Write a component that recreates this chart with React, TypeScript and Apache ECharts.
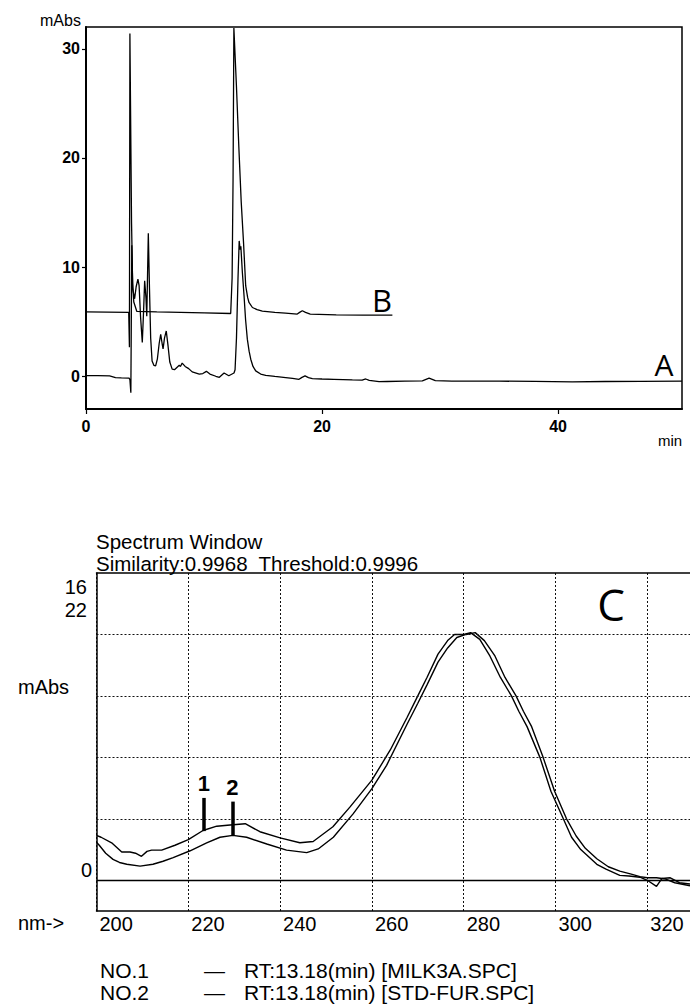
import React, { useEffect, useRef } from "react";
import * as echarts from "echarts";

// ---------- Chromatogram (top) ----------
const timeA = [0, 1.0, 2.0, 2.5, 3.0, 3.65, 3.72, 3.8, 3.88, 3.96, 4.12, 4.25, 4.4, 4.5, 4.62, 4.77, 4.88, 4.97, 5.08, 5.15, 5.28, 5.38, 5.48, 5.6, 5.75, 5.9, 6.05, 6.2, 6.33, 6.45, 6.53, 6.65, 6.8, 6.95, 7.1, 7.3, 7.5, 7.7, 7.9, 8.0, 8.15, 8.4, 8.7, 9.0, 9.6, 9.9, 10.2, 10.5, 11.0, 11.3, 11.7, 12.1, 12.54, 12.63, 12.75, 12.88, 12.98, 13.06, 13.12, 13.25, 13.39, 13.52, 13.67, 13.82, 13.96, 14.15, 14.38, 14.8, 15.23, 16.0, 16.92, 17.5, 18.05, 18.3, 18.56, 18.85, 19.18, 20.0, 21.0, 22.57, 23.4, 23.7, 24.0, 24.83, 25.5, 27.0, 28.5, 29.07, 29.6, 31, 35, 38, 41.2, 44, 47, 50.5];
const absA = [0.05, 0.05, 0.03, -0.12, -0.15, -0.18, -0.3, -1.5, 12, 8.0, 7.1, 8.2, 8.9, 8.3, 5.5, 3.1, 6.0, 8.75, 7.2, 5.5, 13.1, 8.0, 3.5, 1.4, 1.0, 0.95, 1.6, 3.0, 3.85, 3.0, 2.5, 3.5, 4.15, 2.8, 1.3, 0.65, 0.6, 0.8, 1.0, 0.9, 1.2, 0.9, 0.7, 0.4, 0.2, 0.25, 0.45, 0.2, 0.0, -0.1, 0.3, 0.05, 0.3, 0.6, 3.5, 9.0, 12.4, 11.6, 11.9, 9.5, 7.4, 5.2, 3.4, 2.3, 1.56, 0.9, 0.49, 0.2, 0.09, -0.02, -0.12, -0.2, -0.28, -0.1, 0.03, -0.12, -0.21, -0.25, -0.28, -0.34, -0.35, -0.25, -0.38, -0.5, -0.48, -0.45, -0.42, -0.18, -0.4, -0.45, -0.45, -0.47, -0.52, -0.48, -0.47, -0.45];

const timeB = [0, 3.62, 3.68, 3.72, 3.86, 3.95, 4.05, 4.3, 6, 8, 10, 12.26, 12.38, 12.46, 12.53, 12.75, 12.95, 13.15, 13.35, 13.53, 13.7, 13.81, 14.1, 14.5, 14.94, 16, 16.9, 17.9, 18.1, 18.33, 18.6, 19.0, 21.2, 23.5, 25.96];
const absB = [5.9, 5.85, 2.65, 31.4, 14, 8.5, 6.8, 5.95, 5.9, 5.85, 5.8, 5.75, 9, 18, 31.9, 26.5, 21.0, 16.0, 12.2, 8.3, 7.2, 6.76, 6.3, 6.1, 5.96, 5.85, 5.78, 5.7, 5.85, 6.0, 5.85, 5.7, 5.62, 5.6, 5.6];

const timeTicks = [0, 20, 40];
const absTicks = [0, 10, 20, 30];

// ---------- Spectrum (bottom) ----------
const nm1 = [200, 201, 203.3, 205.5, 207.3, 208.5, 209.8, 211, 212, 214.2, 217.1, 220, 223.2, 226.2, 229.1, 232.4, 235.6, 240, 244.3, 247.2, 251.5, 255.2, 260, 264, 267.6, 270, 272, 274.4, 276.5, 278, 280, 281.5, 283.5, 285.7, 288, 290.4, 292, 293.8, 296.6, 299, 301.7, 303.5, 305.5, 309, 311, 314, 316, 318.4, 320, 322, 323.2, 325, 327, 329.3];
const abs1 = [0.73, 0.7, 0.61, 0.46, 0.46, 0.44, 0.39, 0.47, 0.49, 0.49, 0.57, 0.66, 0.81, 0.88, 0.9, 0.92, 0.79, 0.69, 0.61, 0.63, 0.87, 1.19, 1.63, 2.12, 2.64, 3.0, 3.3, 3.68, 3.9, 4.0, 4.0, 4.03, 3.92, 3.65, 3.3, 3.0, 2.75, 2.5, 2.0, 1.45, 1.0, 0.7, 0.5, 0.26, 0.18, 0.08, 0.07, 0.05, 0.0, -0.1, 0.03, 0.04, -0.04, -0.06];

const nm2 = [200, 200.6, 202, 203.6, 205, 206.6, 209.5, 212.3, 214.5, 216.7, 220.4, 224, 226.9, 229.7, 232.7, 237.1, 241.4, 245.8, 248.3, 251.6, 255.9, 260, 263.2, 267.6, 270, 272, 274.4, 276.5, 278.5, 280.5, 282.5, 284.5, 286.8, 289, 291.4, 293, 294.8, 297.3, 299.8, 302.4, 304.5, 306.5, 309, 311.5, 314, 316.5, 318.4, 320, 322, 324, 326, 329.3];
const abs2 = [0.62, 0.57, 0.44, 0.34, 0.29, 0.26, 0.23, 0.26, 0.31, 0.37, 0.48, 0.61, 0.7, 0.73, 0.7, 0.59, 0.49, 0.45, 0.51, 0.7, 1.08, 1.49, 1.87, 2.53, 2.88, 3.18, 3.55, 3.78, 3.95, 4.0, 4.03, 3.9, 3.65, 3.3, 3.0, 2.75, 2.5, 2.0, 1.45, 1.0, 0.72, 0.52, 0.35, 0.22, 0.15, 0.1, 0.06, 0.04, 0.04, 0.02, -0.04, -0.09];

const specGridLevels = [1, 2, 3, 4];
const markerLabels = ["1", "2"];
const markerNm = [223.4, 229.6];
const markerLow = [0.8, 0.73];
const markerHigh = [1.34, 1.28];

const legendIds = ["NO.1", "NO.2"];
const legendRT = ["RT:13.18(min) [MILK3A.SPC]", "RT:13.18(min) [STD-FUR.SPC]"];

const zip = (xs: number[], ys: number[]) => xs.map((x, i) => [x, ys[i]]);

const SANS = "'Liberation Sans', Arial, sans-serif";

export default function App() {
  const ref = useRef<HTMLDivElement>(null);

  useEffect(() => {
    if (!ref.current) return;
    const chart = echarts.init(ref.current, null, { renderer: "svg" });

    const gridLineData: any[] = specGridLevels.map((v) => ({
      yAxis: v,
      lineStyle: { color: "#111", type: [2, 2], width: 1 },
      label: { show: false },
    }));
    gridLineData.push({ yAxis: 0, lineStyle: { color: "#000", type: "solid", width: 1.3 }, label: { show: false } });

    const markerData = markerLabels.map((lab, i) => {
      const common = {
        lineStyle: { color: "#000", width: 3.5, type: "solid" },
        label: { show: true, position: "end", formatter: lab, fontSize: 22, fontWeight: "bold", color: "#000", fontFamily: SANS, distance: 3 },
      };
      return [
        { coord: [markerNm[i], markerLow[i]], ...common },
        { coord: [markerNm[i], markerHigh[i]], ...common },
      ];
    });

    const texts: any[] = [
      { type: "text", left: 40, top: 12, style: { text: "mAbs", fontSize: 16, fontFamily: SANS, fill: "#000" } },
      { type: "text", left: 658, top: 433, style: { text: "min", fontSize: 15, fontFamily: SANS, fill: "#000" } },
      { type: "text", x: 382, y: 300, style: { text: "B", fontSize: 31, fontFamily: "'Open Sans', sans-serif", fill: "#000", align: "center", verticalAlign: "middle" } },
      { type: "text", x: 664, y: 364, style: { text: "A", fontSize: 30, fontFamily: "'Open Sans', sans-serif", fill: "#000", align: "center", verticalAlign: "middle" } },
      { type: "text", x: 611, y: 604, style: { text: "C", fontSize: 44, fontFamily: "'Open Sans', sans-serif", fill: "#000", align: "center", verticalAlign: "middle" } },
      { type: "text", x: 96, y: 541, style: { text: "Spectrum Window", fontSize: 20.5, fontFamily: SANS, fill: "#000", verticalAlign: "middle" } },
      { type: "text", x: 96, y: 563, style: { text: "Similarity:0.9968  Threshold:0.9996", fontSize: 20.5, fontFamily: SANS, fill: "#000", verticalAlign: "middle" } },
      { type: "text", x: 87, y: 587, style: { text: "16", fontSize: 20, fontFamily: SANS, fill: "#000", align: "right", verticalAlign: "middle" } },
      { type: "text", x: 87, y: 610, style: { text: "22", fontSize: 20, fontFamily: SANS, fill: "#000", align: "right", verticalAlign: "middle" } },
      { type: "text", x: 18, y: 687, style: { text: "mAbs", fontSize: 20, fontFamily: SANS, fill: "#000", verticalAlign: "middle" } },
      { type: "text", x: 92, y: 870, style: { text: "0", fontSize: 20, fontFamily: SANS, fill: "#000", align: "right", verticalAlign: "middle" } },
      { type: "text", x: 18, y: 923, style: { text: "nm->", fontSize: 20, fontFamily: SANS, fill: "#000", verticalAlign: "middle" } },
    ];
    legendIds.forEach((id, i) => {
      const y = 970 + i * 22;
      texts.push({ type: "text", x: 100, y, style: { text: id, fontSize: 21, fontFamily: SANS, fill: "#000", verticalAlign: "middle" } });
      texts.push({ type: "text", x: 204, y, style: { text: "—", fontSize: 21, fontFamily: SANS, fill: "#000", verticalAlign: "middle" } });
      texts.push({ type: "text", x: 244, y, style: { text: legendRT[i], fontSize: 21, fontFamily: SANS, fill: "#000", verticalAlign: "middle" } });
    });

    const option: any = {
      animation: false,
      backgroundColor: "#fff",
      textStyle: { fontFamily: SANS },
      grid: [
        { left: 86, top: 27, width: 596, height: 382, show: true, borderColor: "#000", borderWidth: 1.5, backgroundColor: "transparent" },
        { left: 96.5, top: 573, width: 593.5, height: 338, show: false },
      ],
      xAxis: [
        {
          type: "value", gridIndex: 0, min: 0, max: 50.5, interval: 20,
          axisLine: { show: true, onZero: false, lineStyle: { color: "#000", width: 1.8 } },
          axisTick: { show: true, inside: false, length: 5, customValues: timeTicks, lineStyle: { color: "#000", width: 1.2 } },
          axisLabel: { customValues: timeTicks, color: "#000", fontSize: 16, fontWeight: "bold", margin: 9, fontFamily: SANS },
          splitLine: { show: false },
        },
        {
          type: "value", gridIndex: 1, min: 200, max: 329.3, interval: 20, position: "bottom",
          axisLine: { show: true, onZero: false, lineStyle: { color: "#000", width: 1.5 } },
          axisTick: { show: false },
          axisLabel: { color: "#000", fontSize: 20, align: "left", margin: 3, showMaxLabel: false, padding: [0, 0, 0, 3], fontFamily: SANS },
          splitLine: { show: true, lineStyle: { color: "#111", type: [2, 2], width: 1 } },
        },
        {
          type: "value", gridIndex: 1, min: 200, max: 329.3, position: "top",
          axisLine: { show: true, onZero: false, lineStyle: { color: "#000", width: 1.5 } },
          axisTick: { show: false }, axisLabel: { show: false }, splitLine: { show: false },
        },
      ],
      yAxis: [
        {
          type: "value", gridIndex: 0, min: -3, max: 32,
          axisLine: { show: true, onZero: false, lineStyle: { color: "#000", width: 2 } },
          axisTick: { show: true, length: 4, customValues: absTicks, lineStyle: { color: "#000", width: 1.2 } },
          axisLabel: { customValues: absTicks, color: "#000", fontSize: 16, fontWeight: "bold", margin: 6, fontFamily: SANS },
          splitLine: { show: false },
        },
        {
          type: "value", gridIndex: 1, min: -0.5, max: 5,
          axisLine: { show: true, onZero: false, lineStyle: { color: "#000", width: 1.5 } },
          axisTick: { show: false }, axisLabel: { show: false }, splitLine: { show: false },
        },
      ],
      series: [
        {
          type: "line", name: "A", xAxisIndex: 0, yAxisIndex: 0, data: zip(timeA, absA),
          showSymbol: false, symbol: "none", lineStyle: { color: "#000", width: 1.3 }, silent: true,
        },
        {
          type: "line", name: "B", xAxisIndex: 0, yAxisIndex: 0, data: zip(timeB, absB),
          showSymbol: false, symbol: "none", lineStyle: { color: "#000", width: 1.3 }, silent: true,
        },
        {
          type: "line", name: "NO.1", xAxisIndex: 1, yAxisIndex: 1, data: zip(nm1, abs1),
          showSymbol: false, symbol: "none", lineStyle: { color: "#000", width: 1.4 }, silent: true,
          markLine: { silent: true, symbol: ["none", "none"], animation: false, data: [...gridLineData, ...markerData] },
        },
        {
          type: "line", name: "NO.2", xAxisIndex: 1, yAxisIndex: 1, data: zip(nm2, abs2),
          showSymbol: false, symbol: "none", lineStyle: { color: "#000", width: 1.4 }, silent: true,
        },
      ],
      graphic: texts,
    };

    chart.setOption(option);
    return () => chart.dispose();
  }, []);

  return <div ref={ref} style={{ position: "fixed", left: 0, top: 0, width: 690, height: 1006, background: "#fff" }} />;
}
